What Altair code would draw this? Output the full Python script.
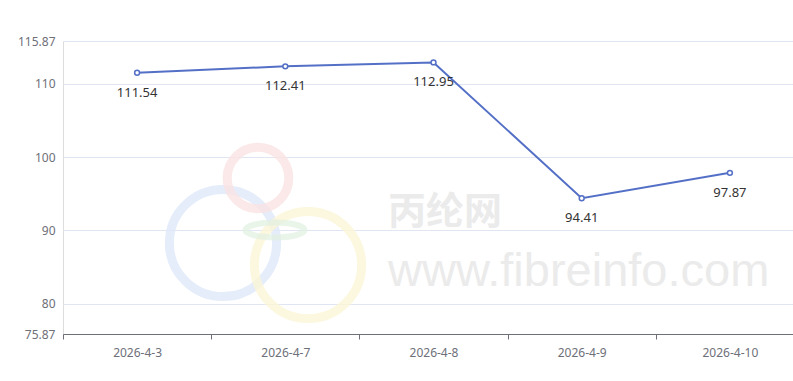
import altair as alt
import pandas as pd

dates = ["2026-4-3", "2026-4-7", "2026-4-8", "2026-4-9", "2026-4-10"]
prices = [111.54, 112.41, 112.95, 94.41, 97.87]
y_ticks = [75.87, 80, 90, 100, 110, 115.87]

df = pd.DataFrame({"date": dates, "price": prices})

W, H = 730, 293
L, T = 63, 41
xs = alt.Scale(domain=dates, range=[0, 741], paddingInner=0, paddingOuter=0)
ys = alt.Scale(domain=[75.87, 115.87], nice=False, zero=False)

x_enc = alt.X("date:N", sort=dates, scale=xs, title=None,
              axis=alt.Axis(labelAngle=0, labelColor="#6e7079", labelFontSize=12,
                            labelFont="Noto Sans", labelPadding=8, domain=True,
                            domainColor="#6e7079", tickColor="#6e7079", tickSize=5,
                            tickBand="extent", grid=False))
y_enc = alt.Y("price:Q", scale=ys, title=None,
              axis=alt.Axis(values=y_ticks, labelColor="#6e7079", labelFontSize=12,
                            labelFont="Noto Sans", labelPadding=8, domain=False,
                            ticks=False, grid=True, gridColor="#e0e6f1", format=".2~f"))

one = pd.DataFrame({"a": [1]})


def ring(cx, cy, size, color, sw=9):
    return alt.Chart(one).mark_point(shape="circle", filled=False, strokeWidth=sw, opacity=0.8,
                                     color=color, size=size).encode(
        x=alt.value(cx - L), y=alt.value(cy - T))


ring_b = ring(223, 243, 11500, "#dfe9fb")
ring_y = ring(308, 265, 11500, "#fcf6d8")
ring_r = ring(258, 178, 3800, "#fbe4e4")
green = alt.Chart(one).mark_point(shape="M-1,0A1,0.25 0 1 0 1,0A1,0.25 0 1 0 -1,0Z",
                                  filled=False, strokeWidth=6, color="#e2f1e2", size=3500).encode(
    x=alt.value(275 - L), y=alt.value(230 - T))

wm1 = alt.Chart(pd.DataFrame({"t": ["丙纶网"]})).mark_text(
    font="Noto Sans CJK SC", fontWeight="bold", fontSize=38, color="#ebebeb", align="left", baseline="middle"
).encode(text="t:N", x=alt.value(388 - L), y=alt.value(213 - T))
wm2 = alt.Chart(pd.DataFrame({"t": ["www.fibreinfo.com"]})).mark_text(
    font="Liberation Sans", fontSize=47, color="#ebebeb", align="left", baseline="middle"
).encode(text="t:N", x=alt.value(388 - L), y=alt.value(272 - T))

base = alt.Chart(df).encode(x=x_enc, y=y_enc)
line = base.mark_line(color="#5470c6", strokeWidth=2)
pts = base.mark_point(shape="circle", filled=True, fill="white", stroke="#5470c6", strokeWidth=1.5, size=24, opacity=1)
labels = base.mark_text(dy=20, fontSize=13, color="#333333", font="Noto Sans").encode(
    text=alt.Text("price:Q", format=".2f"))

chart = alt.layer(ring_b, ring_y, ring_r, green, wm1, wm2, line, pts, labels).properties(
    width=W, height=H, padding={"left": L, "top": T, "right": 0, "bottom": 47}, autosize="none"
).configure_view(stroke="transparent", strokeWidth=0).configure_axis(
    grid=False, domain=False
).configure_axisY(domain=False, ticks=False).configure(background="white")

chart.save("out.html", embed_options={"renderer": "svg", "actions": False})
